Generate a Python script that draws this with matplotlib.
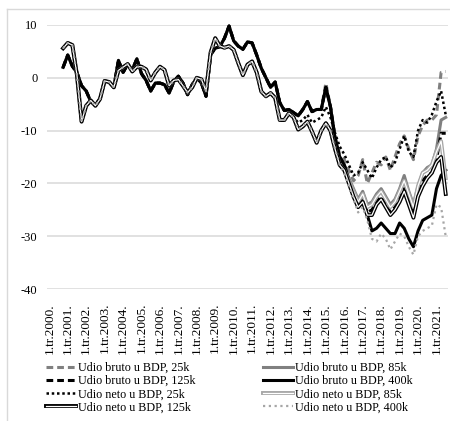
import numpy as np
import matplotlib
matplotlib.use("Agg")
import matplotlib.pyplot as plt
from matplotlib.lines import Line2D
from matplotlib.legend_handler import HandlerTuple

plt.rcParams['font.family'] = ['Liberation Serif', 'DejaVu Serif']

years = list(range(2000, 2022))
n_quarters = 87  # 1.tr.2000. ... 3.tr.2021.
tick_labels = [f"1.tr.{y}." for y in years]
nan = np.nan

bruto_25k = [nan, nan, nan,
    2.0, 4.3, 2.2, 1.0, -1.5, -2.5, -4.5, -5.2, -4.0, -0.6, -0.8, -1.8, 3.3, 1.0, 2.6, 1.5, 3.6, 0.8,
    -0.5, -2.5, -1.0, -1.0, -1.3, -2.9, -0.7, 0.3, -1.0, -3.2, -1.3, 0.0, -1.0, -3.5, 4.4, 5.6, 5.9, 7.5,
    9.8, 7.0, 6.0, 5.4, 6.8, 6.6, 4.3, 1.8, 0.0, -1.8, -0.8, -4.7, -6.2, -6.0, -6.6, -7.2, -6.0, -4.5,
    -6.4, -6.0, -6.0, -1.0, -5.5,
    -11.0, -14.5, -15.5, -17.5, -19.5, -18.5, -15.5, -20.0, -18.0, -16.0, -16.5, -15.0, -17.5, -15.0,
    -12.5, -11.0, -13.5, -15.5, -11.0, -9.0, -8.0, -8.0, -7.0, 1.0, 1.2]
bruto_85k = [nan, nan, nan,
    2.0, 4.3, 2.2, 1.0, -1.5, -2.5, -4.5, -5.2, -4.0, -0.6, -0.8, -1.8, 3.3, 1.0, 2.6, 1.5, 3.6, 0.8,
    -0.5, -2.5, -1.0, -1.0, -1.3, -2.9, -0.7, 0.3, -1.0, -3.2, -1.3, 0.0, -1.0, -3.5, 4.4, 5.6, 5.9, 7.5,
    9.8, 7.0, 6.0, 5.4, 6.8, 6.6, 4.3, 1.8, 0.0, -1.8, -0.8, -4.7, -6.2, -6.0, -6.6, -7.2, -6.0, -4.5,
    -6.4, -6.0, -6.0, -1.8, -5.5,
    -11.5, -15.0, -16.5, -19.0, -21.0, -23.0, -21.5, -24.0, -23.5, -22.0, -21.0, -22.5, -24.0, -23.0,
    -21.0, -18.5, -21.5, -24.0, -20.5, -18.0, -17.0, -16.5, -13.5, -8.0, -7.5]
bruto_125k = [nan, nan, nan,
    2.0, 4.3, 2.2, 1.0, -1.5, -2.5, -4.5, -5.2, -4.0, -0.6, -0.8, -1.8, 3.3, 1.0, 2.6, 1.5, 3.6, 0.8,
    -0.5, -2.5, -1.0, -1.0, -1.3, -2.9, -0.7, 0.3, -1.0, -3.2, -1.3, 0.0, -1.0, -3.5, 4.4, 5.6, 5.9, 7.5,
    9.8, 7.0, 6.0, 5.4, 6.8, 6.6, 4.3, 1.8, 0.0, -1.8, -0.8, -4.7, -6.2, -6.0, -6.6, -7.2, -6.0, -4.5,
    -6.4, -6.0, -6.0, -1.8, -5.5,
    -11.5, -15.0, -16.5, -19.5, -22.0, -24.0, -23.0, -25.5, -25.0, -23.5, -22.5, -24.0, -25.5, -24.5,
    -23.0, -21.0, -23.5, -26.0, -22.0, -19.5, -18.5, -18.0, -15.5, -10.5, -10.5]
bruto_400k = [nan, nan, nan,
    2.0, 4.3, 2.2, 1.0, -1.5, -2.5, -4.5, -5.2, -4.0, -0.6, -0.8, -1.8, 3.3, 1.0, 2.6, 1.5, 3.6, 0.8,
    -0.5, -2.5, -1.0, -1.0, -1.3, -2.9, -0.7, 0.3, -1.0, -3.2, -1.3, 0.0, -1.0, -3.5, 4.4, 5.6, 5.9, 7.5,
    9.8, 7.0, 6.0, 5.4, 6.8, 6.6, 4.3, 1.8, 0.0, -1.8, -0.8, -4.7, -6.2, -6.0, -6.6, -7.2, -6.0, -4.5,
    -6.4, -6.0, -6.0, -1.8, -5.5,
    -11.5, -15.0, -16.5, -19.5, -22.0, -24.5, -23.5, -26.0, -29.0, -28.5, -27.5, -28.5, -29.5, -29.5,
    -27.5, -28.5, -30.5, -32.0, -29.0, -27.0, -26.5, -26.0, -21.0, -18.5, -17.5]
neto_25k = [nan, nan, nan,
    5.6, 6.6, 6.2, 0.5, -8.3, -5.3, -4.3, -5.3, -4.0, -0.6, -0.8, -1.8, 1.4, 2.0, 2.6, 1.2, 2.1, 2.1,
    1.6, -0.5, 1.0, 2.1, 1.5, -1.5, -0.5, -0.3, -1.5, -2.8, -1.8, 0.0, -0.3, -2.5, 4.8, 7.5, 6.0, 5.7,
    6.0, 5.3, 2.8, 0.5, 2.5, 3.1, 1.0, -2.6, -3.5, -2.9, -3.8, -8.0, -8.0, -6.5, -7.5, -8.5, -8.0, -7.0,
    -8.5, -8.0, -7.5, -5.5, -7.5,
    -10.5, -13.0, -14.5, -16.5, -18.5, -18.0, -16.0, -17.5, -19.0, -17.0, -15.5, -15.0, -17.0, -16.0,
    -13.5, -11.0, -14.0, -15.0, -10.0, -8.0, -8.5, -7.0, -4.5, -2.5, -7.0]
neto_85k = [nan, nan, nan,
    5.6, 6.6, 6.2, 0.5, -8.3, -5.3, -4.3, -5.3, -4.0, -0.6, -0.8, -1.8, 1.4, 2.0, 2.6, 1.2, 2.1, 2.1,
    1.6, -0.5, 1.0, 2.1, 1.5, -1.5, -0.5, -0.3, -1.5, -2.8, -1.8, 0.0, -0.3, -2.5, 4.8, 7.5, 6.0, 5.7,
    6.0, 5.3, 2.8, 0.5, 2.5, 3.1, 1.0, -2.6, -3.5, -2.9, -3.8, -8.0, -8.0, -6.7, -7.5, -9.8, -9.2, -8.3,
    -10.2, -12.3, -10.0, -8.6, -10.0,
    -13.5, -16.5, -17.5, -19.5, -21.5, -23.5, -22.0, -24.5, -24.0, -22.5, -21.5, -23.0, -24.5, -23.5,
    -21.5, -19.5, -22.0, -24.5, -20.5, -18.0, -17.5, -16.5, -14.0, -12.0, -19.0]
neto_125k = [nan, nan, nan,
    5.6, 6.6, 6.2, 0.5, -8.3, -5.3, -4.3, -5.3, -4.0, -0.6, -0.8, -1.8, 1.4, 2.0, 2.6, 1.2, 2.1, 2.1,
    1.6, -0.5, 1.0, 2.1, 1.5, -1.5, -0.5, -0.3, -1.5, -2.8, -1.8, 0.0, -0.3, -2.5, 4.8, 7.5, 6.0, 5.7,
    6.0, 5.3, 2.8, 0.5, 2.5, 3.1, 1.0, -2.6, -3.5, -2.9, -3.8, -8.0, -8.0, -6.7, -7.5, -9.8, -9.2, -8.3,
    -10.2, -12.3, -10.0, -8.6, -10.0,
    -13.5, -16.5, -17.5, -20.0, -22.5, -24.5, -23.5, -26.0, -26.0, -24.0, -23.0, -24.5, -26.0, -25.0,
    -23.5, -21.5, -24.0, -26.5, -22.5, -20.5, -19.0, -18.0, -16.0, -15.0, -22.0]
neto_400k = [nan, nan, nan,
    5.6, 6.6, 6.2, 0.5, -8.3, -5.3, -4.3, -5.3, -4.0, -0.6, -0.8, -1.8, 1.4, 2.0, 2.6, 1.2, 2.1, 2.1,
    1.6, -0.5, 1.0, 2.1, 1.5, -1.5, -0.5, -0.3, -1.5, -2.8, -1.8, 0.0, -0.3, -2.5, 4.8, 7.5, 6.0, 5.7,
    6.0, 5.3, 2.8, 0.5, 2.5, 3.1, 1.0, -2.6, -3.5, -2.9, -3.8, -8.0, -8.0, -6.7, -7.5, -9.8, -9.2, -8.3,
    -10.2, -12.3, -10.0, -8.6, -10.0,
    -13.5, -16.5, -18.0, -20.5, -23.0, -25.5, -24.5, -27.0, -30.5, -31.0, -29.5, -30.5, -32.5, -31.0,
    -29.5, -30.0, -32.0, -33.5, -30.0, -29.0, -28.5, -28.0, -24.0, -24.5, -30.0]

labels = ["Udio bruto u BDP, 25k", "Udio bruto u BDP, 85k", "Udio bruto u BDP, 125k",
          "Udio bruto u BDP, 400k", "Udio neto u BDP, 25k", "Udio neto u BDP, 85k",
          "Udio neto u BDP, 125k", "Udio neto u BDP, 400k"]

GRAY = '#808080'
LGRAY = '#a6a6a6'
DASH = (0, (2.2, 1.3))

fig = plt.figure(figsize=(4.5, 4.21), dpi=100)
ax = fig.add_axes([47/450, 1-289/421, 401/450, 264/421])
x = np.arange(n_quarters)

kw = dict(solid_joinstyle='round', dash_joinstyle='round', clip_on=False)
h_b25, = ax.plot(x, bruto_25k, color=GRAY, lw=2.2, ls=DASH, **kw)
h_b85, = ax.plot(x, bruto_85k, color=GRAY, lw=2.2, **kw)
h_b125, = ax.plot(x, bruto_125k, color='black', lw=2.2, ls=DASH, **kw)
h_b400, = ax.plot(x, bruto_400k, color='black', lw=2.2, **kw)
h_n25, = ax.plot(x, neto_25k, color='black', lw=1.8, ls=(0, (1, 1.1)), **kw)
o85, = ax.plot(x, neto_85k, color=LGRAY, lw=2.8, **kw)
i85, = ax.plot(x, neto_85k, color='white', lw=0.9, **kw)
o125, = ax.plot(x, neto_125k, color='black', lw=2.8, **kw)
i125, = ax.plot(x, neto_125k, color='white', lw=0.9, **kw)
h_n400, = ax.plot(x, neto_400k, color=LGRAY, lw=1.6, ls=(0, (1, 1.6)), **kw)

ax.set_xlim(-0.5, n_quarters - 0.5)
ax.set_ylim(-40, 10)
ax.set_yticks(range(-40, 11, 10))
ax.set_yticklabels([str(v) for v in range(-40, 11, 10)], fontsize=9)
ax.set_xticks(range(0, 85, 4))
ax.set_xticklabels(tick_labels, rotation=90, fontsize=9.5)
ax.tick_params(axis='both', length=0)
ax.tick_params(axis='x', pad=10)
ax.tick_params(axis='y', pad=7)
ax.yaxis.grid(True, color='#d9d9d9', lw=1.1)
ax.set_axisbelow(True)
for s in ax.spines.values():
    s.set_visible(False)

leg_kw = dict(loc='upper left', frameon=False, borderpad=0, borderaxespad=0,
              handlelength=2.5, handletextpad=0.15, labelspacing=0.1, fontsize=8.7,
              handler_map={tuple: HandlerTuple(ndivide=1, pad=0)})
leg1 = fig.legend([h_b25, h_b125, h_n25, (o125, i125)],
                  [labels[0], labels[2], labels[4], labels[6]],
                  bbox_to_anchor=(46/450, 1-362/421), **leg_kw)
leg2 = fig.legend([h_b85, h_b400, (o85, i85), h_n400],
                  [labels[1], labels[3], labels[5], labels[7]],
                  bbox_to_anchor=(263/450, 1-362/421), **leg_kw)

fig.add_artist(Line2D([7/450, 1], [1-9/421, 1-9/421], transform=fig.transFigure, color='#d9d9d9', lw=1))
fig.add_artist(Line2D([7/450, 7/450], [0, 1-9/421], transform=fig.transFigure, color='#d9d9d9', lw=1))

fig.savefig('out.png', dpi=100)
